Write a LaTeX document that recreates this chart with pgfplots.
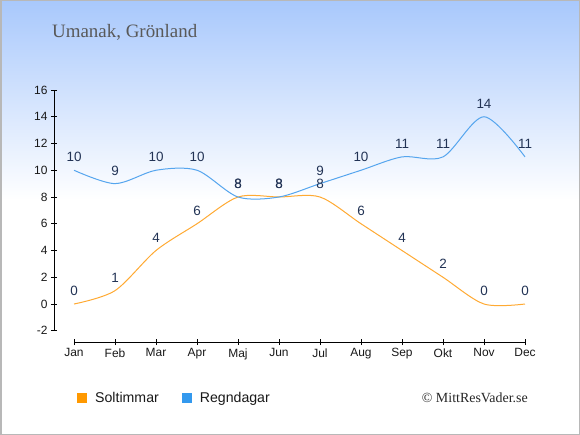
\documentclass[border=0pt]{standalone}
\usepackage{pgfplots}
\pgfplotsset{compat=1.18}
\usepackage{fontspec}
\setmainfont{Liberation Sans}
\newfontfamily\seriffont{Liberation Serif}
\definecolor{bgtop}{HTML}{A8C8FC}
\definecolor{sunline}{HTML}{FFAA33}
\definecolor{rainline}{HTML}{55A5EE}
\definecolor{sunbox}{HTML}{FF9900}
\definecolor{rainbox}{HTML}{3399EE}
\definecolor{lab}{HTML}{223355}
\begin{document}
\begin{tikzpicture}
\fill[white] (0,0) rectangle (580bp,435bp);
\shade[top color=bgtop, bottom color=white] (0,235bp) rectangle (580bp,435bp);
\draw[color=black!28, line width=1.5bp] (0.75bp,0.75bp) rectangle (579.25bp,434.25bp);
\node[anchor=base west, font=\seriffont\fontsize{19}{19}\selectfont, text=black!65, inner sep=0] at (52bp,397bp) {Umanak, Grönland};
\node[anchor=base east, font=\seriffont\fontsize{14}{14}\selectfont, text=black!85, inner sep=0] at (528bp,33bp) {© MittResVader.se};
\begin{axis}[
  at={(54bp,93bp)}, anchor=south west, scale only axis,
  width=486bp, height=252bp,
  xmin=-0.488, xmax=11.366, ymin=-2.84, ymax=16,
  axis x line*=bottom, axis y line*=left,
  axis line style={draw=none},
  xtick={0,...,11},
  xticklabels={Jan,Feb,Mar,Apr,Maj,Jun,Jul,Aug,Sep,Okt,Nov,Dec},
  ytick={-2,0,...,16},
  tick align=center, major tick length=6bp,
  tick style={black, line width=0.8bp},
  ticklabel style={font=\fontsize{12}{12}\selectfont, text=black!90},
  /pgf/number format/assume math mode=true,
  clip=false,
  legend style={at={(0.0473,-0.222)}, anchor=west, draw=none, fill=none,
    inner sep=0pt, font=\fontsize{14.2}{14.2}\selectfont, text=black!90,
    /tikz/every even column/.append style={column sep=21bp}},
  legend columns=2,
  legend cell align=left,
  every node near coord/.append style={font=\fontsize{13.5}{13.5}\selectfont, text=lab, anchor=center, yshift=13bp},
]
\draw[black, line width=0.8bp] (axis cs:-0.488,-2) -- (axis cs:-0.488,16);
\draw[black, line width=0.8bp] (axis cs:0,-2.84) -- (axis cs:11,-2.84);
\addplot[sunline, line width=1bp, smooth, nodes near coords,
  legend image code/.code={\fill[sunbox] (0bp,-4.5bp) rectangle (9bp,4.5bp); \path (15bp,0bp);}]
  coordinates {(0,0)(1,1)(2,4)(3,6)(4,8)(5,8)(6,8)(7,6)(8,4)(9,2)(10,0)(11,0)};
\addlegendentry{Soltimmar}
\addplot[rainline, line width=1bp, smooth, nodes near coords,
  legend image code/.code={\fill[rainbox] (0bp,-4.5bp) rectangle (9bp,4.5bp); \path (15bp,0bp);}]
  coordinates {(0,10)(1,9)(2,10)(3,10)(4,8)(5,8)(6,9)(7,10)(8,11)(9,11)(10,14)(11,11)};
\addlegendentry{Regndagar}
\end{axis}
\end{tikzpicture}
\end{document}
